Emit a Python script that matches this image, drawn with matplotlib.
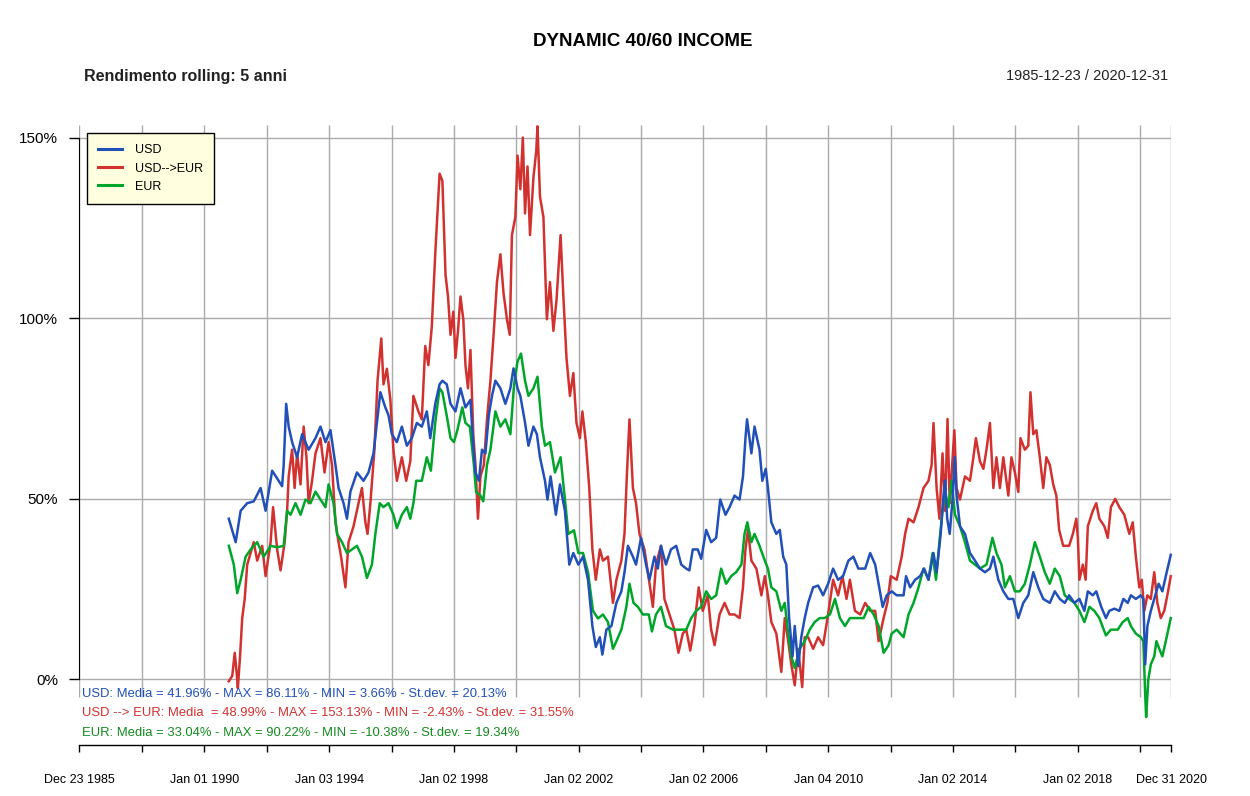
import matplotlib.pyplot as plt
from matplotlib.lines import Line2D
from datetime import date

plt.rcParams['font.family'] = ['Liberation Sans', 'DejaVu Sans']

# rolling 5y returns (%), time as decimal year
usd_t = [1990.78, 1991.00, 1991.16, 1991.37, 1991.58, 1991.80, 1991.96, 1992.17, 1992.38, 1992.49,
         1992.54, 1992.62, 1992.70, 1992.81, 1992.97, 1993.13, 1993.34, 1993.56, 1993.72, 1993.88,
         1994.04, 1994.20, 1994.30, 1994.46, 1994.57, 1994.68, 1994.89, 1995.10, 1995.26, 1995.42,
         1995.53, 1995.64, 1995.80, 1995.90, 1996.01, 1996.17, 1996.33, 1996.49, 1996.65, 1996.81,
         1996.97, 1997.13, 1997.24, 1997.40, 1997.54, 1997.63, 1997.77, 1997.89, 1998.05, 1998.21,
         1998.37, 1998.53, 1998.62, 1998.69, 1998.80, 1998.90, 1999.01, 1999.12, 1999.22, 1999.33,
         1999.49, 1999.65, 1999.81, 1999.91, 2000.04, 2000.13, 2000.28, 2000.39, 2000.55, 2000.66,
         2000.76, 2000.92, 2001.00, 2001.10, 2001.27, 2001.40, 2001.56, 2001.70, 2001.83, 2001.99,
         2002.14, 2002.30, 2002.44, 2002.55, 2002.68, 2002.76, 2002.89, 2003.05, 2003.21, 2003.37,
         2003.47, 2003.58, 2003.74, 2003.84, 2004.00, 2004.16, 2004.27, 2004.43, 2004.54, 2004.64,
         2004.80, 2004.96, 2005.13, 2005.29, 2005.45, 2005.55, 2005.66, 2005.82, 2005.93, 2006.09,
         2006.25, 2006.41, 2006.54, 2006.71, 2006.84, 2007.00, 2007.16, 2007.27, 2007.35, 2007.40,
         2007.54, 2007.64, 2007.80, 2007.89, 2008.00, 2008.07, 2008.18, 2008.34, 2008.45, 2008.56,
         2008.66, 2008.75, 2008.86, 2008.93, 2009.04, 2009.14, 2009.25, 2009.36, 2009.52, 2009.68,
         2009.84, 2010.00, 2010.16, 2010.32, 2010.48, 2010.65, 2010.81, 2010.97, 2011.19, 2011.35,
         2011.51, 2011.62, 2011.75, 2011.88, 2012.04, 2012.20, 2012.42, 2012.50, 2012.63, 2012.79,
         2012.95, 2013.08, 2013.22, 2013.38, 2013.48, 2013.61, 2013.70, 2013.75, 2013.82, 2013.90,
         2013.99, 2014.06, 2014.12, 2014.23, 2014.39, 2014.55, 2014.71, 2014.87, 2015.03, 2015.19,
         2015.30, 2015.46, 2015.62, 2015.78, 2015.94, 2016.10, 2016.26, 2016.42, 2016.58, 2016.74,
         2016.90, 2017.11, 2017.27, 2017.43, 2017.59, 2017.73, 2017.90, 2018.06, 2018.22, 2018.33,
         2018.49, 2018.60, 2018.76, 2018.91, 2019.02, 2019.18, 2019.34, 2019.47, 2019.61, 2019.71,
         2019.87, 2020.03, 2020.11, 2020.17, 2020.24, 2020.35, 2020.46, 2020.60, 2020.72, 2020.83,
         2020.99]
usd_v = [44.5, 38.0, 46.7, 48.8, 49.3, 53.0, 46.7, 57.8, 55.0, 53.5,
         59.4, 76.3, 70.0, 65.7, 61.5, 67.9, 63.6, 66.8, 70.0, 65.7,
         69.0, 59.4, 53.0, 48.8, 44.5, 52.0, 57.3, 55.0, 57.3, 62.6,
         71.0, 79.5, 75.3, 73.2, 67.9, 65.7, 70.0, 64.7, 66.8, 71.0,
         70.0, 74.2, 66.8, 76.3, 81.7, 82.7, 81.7, 76.3, 74.2, 80.6,
         75.3, 77.4, 64.7, 57.3, 55.0, 63.6, 62.6, 73.2, 78.5, 82.7,
         80.6, 76.3, 80.6, 86.1, 80.6, 78.5, 71.1, 64.7, 70.0, 67.9,
         61.5, 55.0, 49.8, 56.2, 45.6, 54.0, 46.7, 31.8, 35.0, 31.8,
         34.0, 27.6, 14.8, 9.0, 11.7, 6.9, 13.8, 14.8, 21.2, 24.4,
         29.7, 37.0, 34.0, 31.8, 39.2, 31.8, 27.6, 34.0, 30.7, 37.0,
         31.8, 36.0, 37.0, 31.8, 30.7, 30.2, 36.0, 36.0, 33.4, 41.4,
         38.0, 39.2, 49.8, 45.6, 47.7, 50.9, 49.8, 56.2, 66.8, 72.0,
         62.6, 70.0, 63.6, 55.0, 58.3, 53.0, 43.5, 40.3, 41.4, 34.0,
         31.8, 17.0, 6.4, 14.8, 3.7, 11.7, 17.0, 21.2, 25.5, 26.0,
         23.3, 26.5, 30.7, 27.6, 28.6, 32.9, 34.0, 30.7, 30.7, 35.0,
         31.8, 26.5, 20.1, 23.3, 24.4, 23.3, 23.3, 28.6, 25.5, 27.6,
         28.6, 30.7, 27.6, 35.0, 29.7, 40.3, 50.9, 55.1, 44.5, 40.3,
         49.8, 61.5, 50.9, 42.4, 40.3, 35.0, 32.9, 30.7, 29.7, 30.7,
         34.0, 27.6, 24.4, 22.3, 22.3, 17.0, 21.2, 23.3, 29.7, 25.5,
         22.3, 21.2, 24.4, 22.3, 21.2, 23.3, 21.2, 22.3, 19.0, 24.4,
         23.3, 24.4, 20.1, 17.0, 19.0, 19.6, 19.0, 22.3, 21.2, 23.3,
         22.3, 23.3, 22.3, 4.2, 14.8, 19.0, 22.3, 26.5, 24.4, 28.6,
         34.5]

usdeur_t = [1990.78, 1990.89, 1990.97, 1991.03, 1991.07, 1991.14, 1991.21, 1991.29, 1991.37, 1991.48,
            1991.58, 1991.69, 1991.85, 1991.96, 1992.12, 1992.20, 1992.33, 1992.44, 1992.57, 1992.65,
            1992.70, 1992.81, 1992.89, 1992.97, 1993.08, 1993.18, 1993.27, 1993.34, 1993.45, 1993.56,
            1993.72, 1993.85, 1993.98, 1994.09, 1994.20, 1994.30, 1994.38, 1994.52, 1994.62, 1994.78,
            1994.94, 1995.05, 1995.16, 1995.23, 1995.32, 1995.45, 1995.55, 1995.67, 1995.74, 1995.85,
            1995.96, 1996.06, 1996.17, 1996.33, 1996.47, 1996.60, 1996.70, 1996.86, 1996.97, 1997.08,
            1997.18, 1997.29, 1997.40, 1997.54, 1997.63, 1997.68, 1997.73, 1997.81, 1997.89, 1997.98,
            1998.05, 1998.13, 1998.21, 1998.30, 1998.37, 1998.45, 1998.53, 1998.62, 1998.69, 1998.77,
            1998.85, 1998.96, 1999.06, 1999.17, 1999.28, 1999.38, 1999.49, 1999.59, 1999.70, 1999.79,
            1999.86, 1999.97, 2000.04, 2000.13, 2000.21, 2000.28, 2000.36, 2000.44, 2000.55, 2000.64,
            2000.68, 2000.76, 2000.87, 2000.98, 2001.08, 2001.19, 2001.29, 2001.42, 2001.51, 2001.61,
            2001.72, 2001.83, 2001.93, 2002.04, 2002.12, 2002.23, 2002.34, 2002.44, 2002.55, 2002.68,
            2002.78, 2002.94, 2003.10, 2003.21, 2003.37, 2003.47, 2003.55, 2003.63, 2003.74, 2003.84,
            2003.95, 2004.11, 2004.22, 2004.38, 2004.48, 2004.64, 2004.75, 2004.91, 2005.07, 2005.20,
            2005.34, 2005.45, 2005.58, 2005.71, 2005.85, 2005.98, 2006.14, 2006.25, 2006.36, 2006.52,
            2006.68, 2006.84, 2007.00, 2007.16, 2007.27, 2007.35, 2007.43, 2007.54, 2007.70, 2007.86,
            2007.97, 2008.07, 2008.18, 2008.34, 2008.50, 2008.61, 2008.72, 2008.82, 2008.93, 2009.04,
            2009.17, 2009.25, 2009.36, 2009.52, 2009.68, 2009.84, 2010.00, 2010.16, 2010.32, 2010.46,
            2010.59, 2010.70, 2010.86, 2011.03, 2011.19, 2011.35, 2011.51, 2011.62, 2011.78, 2011.90,
            2012.01, 2012.20, 2012.36, 2012.47, 2012.58, 2012.74, 2012.90, 2013.06, 2013.22, 2013.32,
            2013.38, 2013.48, 2013.57, 2013.67, 2013.75, 2013.83, 2013.90, 2014.05, 2014.12, 2014.23,
            2014.39, 2014.55, 2014.66, 2014.74, 2014.87, 2014.98, 2015.08, 2015.19, 2015.30, 2015.40,
            2015.51, 2015.62, 2015.78, 2015.88, 2015.99, 2016.10, 2016.17, 2016.31, 2016.42, 2016.49,
            2016.58, 2016.68, 2016.79, 2016.90, 2017.00, 2017.11, 2017.22, 2017.32, 2017.41, 2017.54,
            2017.73, 2017.85, 2017.96, 2018.01, 2018.06, 2018.17, 2018.26, 2018.33, 2018.49, 2018.60,
            2018.70, 2018.86, 2018.97, 2019.07, 2019.21, 2019.34, 2019.50, 2019.66, 2019.77, 2019.87,
            2019.98, 2020.06, 2020.14, 2020.24, 2020.35, 2020.46, 2020.56, 2020.67, 2020.78, 2020.88,
            2020.99]
usdeur_v = [-0.5, 1.0, 7.4, 2.0, -2.4, 6.4, 17.0, 22.3, 31.8, 35.0,
            38.0, 32.9, 37.0, 28.6, 38.0, 47.7, 36.0, 30.2, 38.0, 46.7,
            56.2, 63.6, 53.0, 62.6, 54.0, 70.0, 61.5, 48.8, 55.0, 62.6,
            66.8, 57.3, 65.7, 59.4, 43.5, 38.0, 34.0, 25.5, 38.0, 42.4,
            48.8, 53.0, 43.5, 40.3, 48.8, 63.6, 82.7, 94.4, 81.7, 86.0,
            77.4, 63.6, 55.0, 61.5, 55.0, 60.4, 78.5, 74.2, 72.0, 92.3,
            87.0, 97.6, 117.7, 140.0, 138.0, 125.0, 112.0, 106.0, 95.4, 101.8,
            89.0, 96.5, 106.0, 99.7, 87.0, 80.6, 91.2, 67.9, 59.4, 44.5,
            56.2, 59.4, 72.0, 82.7, 96.5, 110.0, 117.7, 107.0, 99.7, 95.4,
            123.0, 128.0, 145.0, 135.7, 150.0, 129.0, 142.0, 123.0, 139.0, 146.3,
            153.1, 133.6, 128.0, 99.7, 110.0, 96.5, 105.0, 123.0, 106.0, 89.0,
            78.5, 84.8, 71.0, 66.8, 74.2, 65.7, 53.0, 36.0, 27.6, 36.0,
            32.9, 34.0, 21.2, 27.6, 32.9, 40.3, 57.3, 72.0, 53.0, 48.8,
            40.3, 36.0, 29.7, 20.1, 31.8, 37.0, 22.3, 18.0, 13.8, 7.4,
            12.7, 13.8, 8.0, 14.8, 25.5, 19.0, 23.3, 13.8, 9.5, 18.0,
            21.2, 18.0, 18.0, 17.0, 25.5, 36.0, 41.4, 32.9, 30.7, 23.3,
            28.6, 23.3, 15.9, 12.7, 2.1, 17.0, 10.6, 4.2, -1.6, 8.5,
            -2.1, 11.7, 11.7, 8.5, 11.7, 9.5, 18.0, 27.6, 23.3, 28.6,
            22.3, 27.6, 19.0, 18.0, 21.2, 19.0, 19.0, 10.6, 17.0, 21.2,
            28.6, 27.6, 34.0, 40.3, 44.5, 43.5, 47.7, 53.0, 55.0, 59.4,
            71.0, 53.0, 44.5, 62.6, 46.7, 72.1, 48.8, 69.0, 53.0, 49.8,
            56.2, 55.0, 61.5, 66.8, 60.4, 58.3, 63.6, 71.0, 53.0, 61.5,
            53.0, 61.5, 50.9, 61.5, 57.3, 51.9, 66.8, 63.6, 64.7, 79.5,
            67.9, 69.0, 61.5, 53.0, 61.5, 59.4, 54.0, 50.9, 41.4, 37.0,
            37.0, 40.3, 44.5, 39.2, 27.6, 31.8, 27.6, 42.4, 46.7, 48.8,
            44.5, 42.4, 39.2, 47.7, 50.0, 47.7, 45.6, 40.3, 43.5, 34.0,
            25.5, 27.6, 19.0, 23.3, 22.3, 29.7, 21.2, 17.0, 19.0, 23.3,
            28.6]

eur_t = [1990.78, 1990.94, 1991.05, 1991.16, 1991.32, 1991.48, 1991.69, 1991.90, 1992.12, 1992.33,
         1992.54, 1992.65, 1992.76, 1992.92, 1993.08, 1993.24, 1993.40, 1993.56, 1993.72, 1993.88,
         1993.98, 1994.14, 1994.25, 1994.41, 1994.57, 1994.73, 1994.89, 1995.05, 1995.21, 1995.37,
         1995.48, 1995.62, 1995.74, 1995.90, 1996.06, 1996.17, 1996.33, 1996.49, 1996.60, 1996.70,
         1996.79, 1996.97, 1997.13, 1997.26, 1997.40, 1997.54, 1997.63, 1997.79, 1997.89, 1998.00,
         1998.11, 1998.27, 1998.37, 1998.51, 1998.64, 1998.71, 1998.85, 1998.94, 1999.06, 1999.17,
         1999.33, 1999.49, 1999.65, 1999.81, 1999.93, 2000.04, 2000.15, 2000.28, 2000.39, 2000.55,
         2000.68, 2000.82, 2000.92, 2001.08, 2001.24, 2001.42, 2001.56, 2001.67, 2001.85, 2001.99,
         2002.14, 2002.30, 2002.46, 2002.62, 2002.78, 2002.94, 2003.10, 2003.21, 2003.37, 2003.53,
         2003.63, 2003.76, 2003.90, 2004.06, 2004.25, 2004.35, 2004.48, 2004.64, 2004.80, 2005.02,
         2005.23, 2005.45, 2005.61, 2005.77, 2005.93, 2006.09, 2006.25, 2006.41, 2006.57, 2006.73,
         2006.89, 2007.05, 2007.22, 2007.32, 2007.41, 2007.54, 2007.64, 2007.80, 2007.97, 2008.07,
         2008.18, 2008.34, 2008.50, 2008.61, 2008.72, 2008.82, 2008.93, 2009.09, 2009.25, 2009.41,
         2009.57, 2009.73, 2009.89, 2010.06, 2010.22, 2010.38, 2010.54, 2010.70, 2010.86, 2011.00,
         2011.14, 2011.30, 2011.46, 2011.62, 2011.78, 2011.94, 2012.04, 2012.20, 2012.42, 2012.58,
         2012.74, 2012.90, 2013.06, 2013.22, 2013.35, 2013.46, 2013.57, 2013.67, 2013.75, 2013.86,
         2013.96, 2014.07, 2014.23, 2014.39, 2014.55, 2014.71, 2014.87, 2015.08, 2015.19, 2015.27,
         2015.40, 2015.56, 2015.67, 2015.83, 2015.99, 2016.15, 2016.31, 2016.47, 2016.63, 2016.79,
         2016.95, 2017.11, 2017.27, 2017.43, 2017.59, 2017.73, 2017.90, 2018.06, 2018.22, 2018.38,
         2018.54, 2018.70, 2018.91, 2019.07, 2019.29, 2019.45, 2019.61, 2019.71, 2019.87, 2020.03,
         2020.11, 2020.17, 2020.20, 2020.27, 2020.35, 2020.46, 2020.53, 2020.62, 2020.72, 2020.83,
         2020.99]
eur_v = [37.0, 31.8, 23.9, 27.6, 34.0, 36.0, 38.0, 34.0, 37.0, 36.6,
         37.0, 46.7, 45.6, 48.8, 45.6, 49.8, 48.8, 52.0, 49.8, 47.7,
         54.0, 48.8, 40.3, 38.0, 35.0, 36.0, 37.0, 34.0, 28.1, 31.8,
         40.3, 48.8, 47.7, 48.8, 45.6, 41.9, 45.6, 47.7, 44.5, 48.8,
         55.0, 55.0, 61.5, 57.8, 71.0, 80.6, 79.5, 72.0, 66.8, 65.7,
         69.0, 75.3, 71.0, 70.0, 59.4, 51.9, 50.9, 49.3, 59.4, 63.6,
         74.2, 70.0, 72.0, 67.9, 81.7, 88.0, 90.2, 82.7, 78.5, 80.6,
         83.8, 70.0, 64.7, 65.7, 57.3, 61.5, 49.8, 40.3, 41.3, 35.0,
         35.0, 29.7, 19.0, 16.9, 18.0, 15.9, 8.5, 10.6, 13.8, 20.1,
         26.5, 21.2, 20.1, 18.0, 18.0, 13.3, 18.0, 20.1, 14.8, 13.8,
         13.8, 13.8, 17.0, 19.0, 20.1, 24.4, 22.3, 23.3, 30.7, 26.5,
         28.6, 29.7, 31.8, 40.3, 43.5, 38.0, 40.3, 37.0, 32.9, 30.7,
         25.5, 24.4, 19.0, 21.2, 12.7, 6.4, 3.2, 8.5, 10.6, 13.8,
         15.9, 17.0, 17.0, 18.0, 22.3, 17.0, 14.8, 17.0, 17.0, 17.0,
         17.0, 20.1, 18.0, 14.8, 7.4, 9.5, 12.7, 13.8, 11.7, 18.0,
         21.2, 25.5, 30.7, 27.6, 35.0, 27.6, 38.0, 46.7, 51.9, 47.7,
         55.0, 45.6, 42.4, 38.0, 32.9, 31.8, 30.7, 31.8, 36.0, 39.2,
         35.0, 31.8, 25.5, 28.6, 24.4, 24.4, 26.5, 31.8, 38.0, 34.0,
         29.7, 26.5, 30.7, 28.6, 23.3, 22.3, 21.2, 19.0, 15.9, 20.1,
         19.0, 17.0, 12.2, 13.8, 13.8, 15.9, 17.0, 14.8, 12.7, 11.7,
         10.6, -4.2, -10.4, 0.0, 4.2, 6.4, 10.6, 8.5, 6.4, 10.6,
         17.0]

major_dates = ['1985-12-23', '1990-01-01', '1994-01-03', '1998-01-02', '2002-01-02',
               '2006-01-02', '2010-01-04', '2014-01-02', '2018-01-02', '2020-12-31']
major_labels = ['Dec 23 1985', 'Jan 01 1990', 'Jan 03 1994', 'Jan 02 1998', 'Jan 02 2002',
                'Jan 02 2006', 'Jan 04 2010', 'Jan 02 2014', 'Jan 02 2018', 'Dec 31 2020']
minor_dates = ['1988-01-04', '1992-01-02', '1996-01-02', '2000-01-03', '2004-01-02',
               '2008-01-02', '2012-01-02', '2016-01-04', '2020-01-02']
y_ticks = [0, 50, 100, 150]

blue = '#2150B8'
red = '#D1322F'
green = '#00A62A'
gridc = '#ABABAB'


def dec_year(s):
    d = date.fromisoformat(s)
    y0 = date(d.year, 1, 1)
    n = (date(d.year + 1, 1, 1) - y0).days
    return d.year + (d - y0).days / n


major_x = [dec_year(s) for s in major_dates]
minor_x = [dec_year(s) for s in minor_dates]
x0, x1 = major_x[0], major_x[-1]
ymin, ymax = -18.13, 153.47

fig = plt.figure(figsize=(12.5, 7.96), dpi=100)
ax = fig.add_axes([79 / 1250, 1 - 745 / 796, 1092 / 1250, 620 / 796])
ax.set_xlim(x0, x1)
ax.set_ylim(ymin, ymax)

ax.vlines(major_x + minor_x, -4.84, ymax, color=gridc, lw=1.0, zorder=0)
ax.hlines(y_ticks, x0, x1, color=gridc, lw=1.0, zorder=0)

ax.plot(usdeur_t, usdeur_v, color=red, lw=1.8, zorder=2, clip_on=False)
ax.plot(eur_t, eur_v, color=green, lw=1.8, zorder=3, clip_on=False)
ax.plot(usd_t, usd_v, color=blue, lw=1.8, zorder=4, clip_on=False)

for s in ['top', 'right']:
    ax.spines[s].set_visible(False)
ax.spines['left'].set_bounds(0, 150)
ax.spines['left'].set_zorder(5)
ax.spines['bottom'].set_linewidth(1)

ax.set_yticks(y_ticks, labels=[f'{v}%' for v in y_ticks])
ax.tick_params(axis='y', length=7, width=1, pad=8, labelsize=11)
ax.set_xticks(major_x, labels=major_labels)
ax.set_xticks(minor_x, minor=True)
ax.tick_params(axis='x', which='both', length=5, width=1, pad=16, labelsize=9)

handles = [Line2D([], [], color=blue, lw=2.2),
           Line2D([], [], color=red, lw=2.2),
           Line2D([], [], color=green, lw=2.2)]
leg = ax.legend(handles, ['USD', 'USD-->EUR', 'EUR'], loc='upper left',
                bbox_to_anchor=(8 / 1092, (745 - 133) / 620), fontsize=9,
                frameon=True, fancybox=False, edgecolor='black', facecolor='#FFFFE0',
                framealpha=1, handlelength=1.9, handletextpad=1.0, labelspacing=0.5,
                borderpad=0.9, borderaxespad=0)
leg.get_frame().set_linewidth(1)
leg.set_zorder(6)

fig.text(643 / 1250, 1 - 42 / 796, 'DYNAMIC 40/60 INCOME', ha='center', va='center',
         fontsize=13.5, fontweight='bold')
fig.text(84 / 1250, 1 - 76 / 796, 'Rendimento rolling: 5 anni', ha='left', va='center',
         fontsize=11.5, fontweight='bold', color='#222222')
fig.text(1168 / 1250, 1 - 76 / 796, '1985-12-23 / 2020-12-31', ha='right', va='center',
         fontsize=10.5, color='#222222')

fig.text(82 / 1250, 1 - 694 / 796,
         'USD: Media = 41.96% - MAX = 86.11% - MIN = 3.66% - St.dev. = 20.13%',
         ha='left', va='center', fontsize=9.4, color=blue)
fig.text(82 / 1250, 1 - 713 / 796,
         'USD --> EUR: Media  = 48.99% - MAX = 153.13% - MIN = -2.43% - St.dev. = 31.55%',
         ha='left', va='center', fontsize=9.4, color=red)
fig.text(82 / 1250, 1 - 733 / 796,
         'EUR: Media = 33.04% - MAX = 90.22% - MIN = -10.38% - St.dev. = 19.34%',
         ha='left', va='center', fontsize=9.4, color='#138A1E')

fig.savefig('out.png', dpi=100)
